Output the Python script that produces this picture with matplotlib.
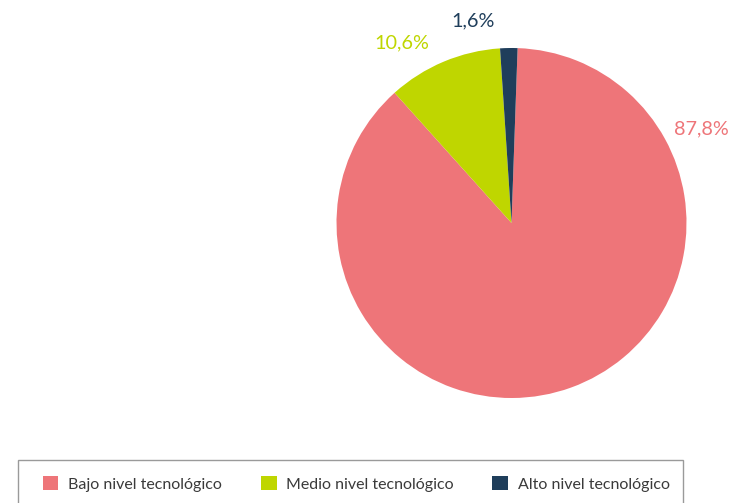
import matplotlib
matplotlib.use("Agg")
import matplotlib.pyplot as plt
from matplotlib.patches import Rectangle

# Data
categories = ["Bajo nivel tecnológico", "Medio nivel tecnológico", "Alto nivel tecnológico"]
shares = [87.8, 10.6, 1.6]
value_labels = ["87,8%", "10,6%", "1,6%"]

colors = ["#EE7579", "#BFD600", "#1F3E5B"]
label_pos = [(1.086, 0.537), (-0.627, 1.030), (-0.22, 1.156)]

plt.rcParams['font.family'] = ['Lato', 'DejaVu Sans']

W, H = 736, 503
fig = plt.figure(figsize=(W / 100, H / 100), dpi=100)

# pie axes: center (511.5, 223) px, radius 175 px
cx, cy, r = 511.5, 223, 175
ax = fig.add_axes([(cx - r) / W, (H - cy - r) / H, 2 * r / W, 2 * r / H])
wedges, _ = ax.pie(shares, colors=colors, startangle=88, counterclock=False,
                   radius=1, wedgeprops=dict(linewidth=0))
ax.set_xlim(-1, 1)
ax.set_ylim(-1, 1)
ax.set_aspect('equal')
ax.axis('off')

for txt, pos, c in zip(value_labels, label_pos, colors):
    ax.text(pos[0], pos[1], txt, color=c, fontsize=14.3, ha='center', va='center')

# legend along the bottom (frame drawn separately, runs off the bottom edge)
leg = fig.legend(wedges, categories, loc='center left', ncol=3,
                 bbox_to_anchor=(42.5 / W, 1 - 484 / H),
                 fontsize=11.5, frameon=False,
                 handlelength=1.0, handleheight=1.0, handletextpad=0.62,
                 columnspacing=2.4, borderpad=0, borderaxespad=0)
for t in leg.get_texts():
    t.set_color('#3A3A3A')

fig.add_artist(Rectangle((18 / W, -10 / H), (683 - 18) / W, (H - 460 + 10) / H,
                         transform=fig.transFigure, fill=False,
                         edgecolor='#9A9A9A', linewidth=1.0))

fig.savefig("out.png", dpi=100)
